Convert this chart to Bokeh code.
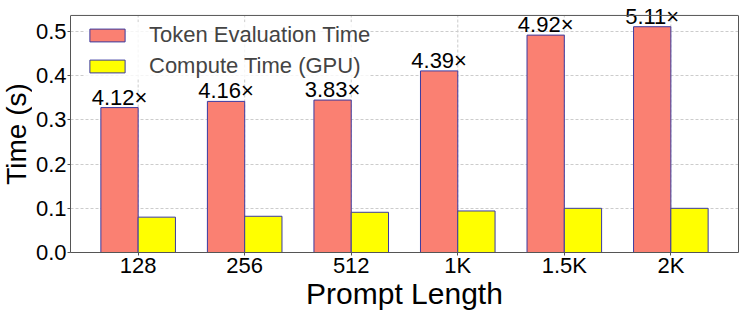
from bokeh.plotting import figure
from bokeh.layouts import row
from bokeh.models import (ColumnDataSource, FixedTicker, Label, LabelSet, Legend, LinearAxis,
                          LegendItem, Range1d, Span)
from bokeh.core.properties import value
from bokeh.embed import file_html
from bokeh.resources import INLINE

categories = ["128", "256", "512", "1K", "1.5K", "2K"]
token_eval_time = [0.328, 0.342, 0.345, 0.411, 0.492, 0.511]
compute_time_gpu = [0.080, 0.082, 0.091, 0.094, 0.100, 0.100]
speedup_labels = ["4.12×", "4.16×", "3.83×", "4.39×", "4.92×", "5.11×"]
y_ticks = [0.0, 0.1, 0.2, 0.3, 0.4, 0.5]

FONT = "Liberation Sans"
SPINE = "#555555"
BAR_W = 0.35
idx = list(range(len(categories)))

W, H = 747, 312
TITLE_W = 32
B_LEFT, B_RIGHT, B_TOP, B_BOTTOM = 66 - TITLE_W, 9, 15, 59
y_top = max(token_eval_time) * 1.05            # top spine (data units)
frame_h = H - B_BOTTOM                           # frame spans canvas top to bottom spine
y_end = y_top * frame_h / (frame_h - B_TOP)      # room above spine for the labels
y_range = Range1d(0, y_end)

src = ColumnDataSource(dict(
    red_x=[i - BAR_W / 2 for i in idx],
    yel_x=[i + BAR_W / 2 for i in idx],
    red=token_eval_time,
    yel=compute_time_gpu,
    lab=speedup_labels,
))
grid_src = ColumnDataSource(dict(x=idx, y0=[0] * len(idx), y1=[y_top] * len(idx)))

p = figure(width=W - TITLE_W, height=H, output_backend="svg", toolbar_location=None,
           x_range=Range1d(-0.635, len(categories) - 1 + 0.635),
           y_range=y_range,
           min_border_left=B_LEFT, min_border_right=B_RIGHT, min_border_top=0,
           min_border_bottom=B_BOTTOM)

p.outline_line_color = None
p.background_fill_color = "white"

# vertical grid lines, only up to the top spine
p.xgrid.visible = False
p.segment(x0="x", y0="y0", x1="x", y1="y1", source=grid_src, line_color="#cccccc",
          line_width=1, line_dash="3 2", level="underlay")
p.ygrid.grid_line_color = "#cccccc"
p.ygrid.grid_line_dash = "3 2"
p.ygrid.grid_line_width = 1

edge = "#3a3aa0"
r1 = p.vbar(x="red_x", top="red", width=BAR_W, source=src, fill_color="#FA8072",
            line_color=edge, line_width=1)
r2 = p.vbar(x="yel_x", top="yel", width=BAR_W, source=src, fill_color="#FFFF00",
            line_color=edge, line_width=1)

labels = LabelSet(x="red_x", y="red", text="lab", source=src, y_offset=3, x_offset=0,
                  text_align="center", text_baseline="alphabetic",
                  text_font=value(FONT), text_font_size=value("22px"),
                  text_color="black")
p.add_layout(labels)

# axes
left_ax = p.left[0]
bottom_ax = p.below[0]
bottom_ax.ticker = FixedTicker(ticks=idx)
bottom_ax.major_label_overrides = {i: c for i, c in zip(idx, categories)}
left_ax.ticker = FixedTicker(ticks=y_ticks)
left_ax.major_label_overrides = {t: f"{t:.1f}" for t in y_ticks}
left_ax.bounds = (0, y_top)
for ax in (bottom_ax, left_ax):
    ax.major_label_text_font = FONT
    ax.major_label_text_font_size = "22px"
    ax.major_label_text_color = "black"
    ax.axis_line_color = SPINE
    ax.major_tick_line_color = SPINE
    ax.major_tick_in = 0
    ax.major_tick_out = 3
    ax.minor_tick_line_color = None
    ax.axis_label_text_font = FONT
    ax.axis_label_text_font_style = "normal"
    ax.axis_label_text_color = "black"
left_ax.major_label_standoff = 1
bottom_ax.major_label_standoff = -3
bottom_ax.axis_label = "Prompt Length"
bottom_ax.axis_label_text_font_size = "30px"
bottom_ax.axis_label_standoff = -4

# top spine and right spine
p.add_layout(Span(location=y_top, dimension="width", line_color=SPINE, line_width=1))
right_ax = LinearAxis(ticker=FixedTicker(ticks=[]), bounds=(0, y_top),
                      axis_line_color=SPINE, major_tick_line_color=None,
                      minor_tick_line_color=None, major_label_text_font_size="0px",
                      major_label_standoff=0, major_tick_out=0, major_tick_in=0)
p.add_layout(right_ax, "right")

legend = Legend(items=[LegendItem(label="Token Evaluation Time", renderers=[r1]),
                       LegendItem(label="Compute Time (GPU)", renderers=[r2])],
                location=(15, 173), padding=5, margin=0, spacing=5,
                glyph_width=44, glyph_height=16, label_standoff=20,
                label_text_font=FONT, label_text_font_size="22px",
                border_line_color=None, background_fill_alpha=0.8)
p.add_layout(legend)

# narrow strip holding the y-axis title (shares the y range, so it is centred on the axis)
t = figure(width=TITLE_W, height=H, output_backend="svg", toolbar_location=None,
           x_axis_location=None, y_axis_location=None, min_border=0,
           min_border_bottom=B_BOTTOM, x_range=Range1d(0, 1), y_range=y_range)
t.outline_line_color = None
t.xgrid.visible = False
t.ygrid.visible = False
t.add_layout(Label(x=16, y=y_top / 2, x_units="screen", y_units="data", text="Time (s)",
                   angle=1.5707963, text_align="center", text_baseline="middle",
                   text_font=FONT, text_font_size="28px", text_color="black"))

layout = row(t, p, spacing=0)
open("out.html", "w").write(file_html(layout, INLINE))
